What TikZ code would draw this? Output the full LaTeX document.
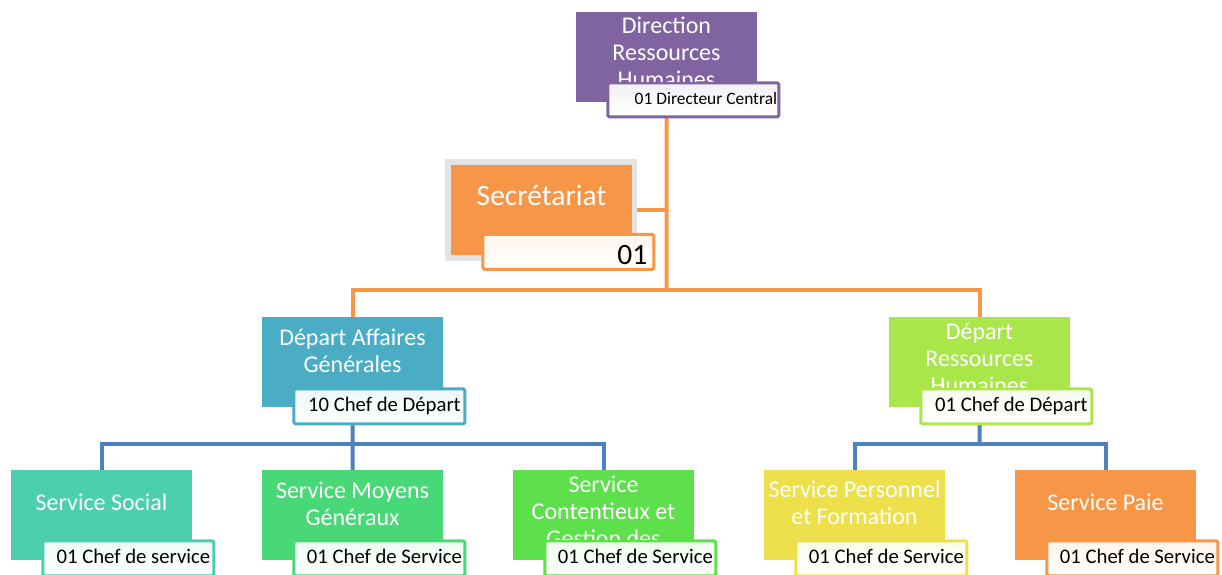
\documentclass[tikz,border=0pt]{standalone}
\usepackage{fontspec}
\setmainfont{Carlito}
\pgfdeclarelayer{bg}
\pgfsetlayers{bg,main}
\definecolor{cPurple}{HTML}{8064A2}
\definecolor{cOrange}{HTML}{F79646}
\definecolor{cTeal}{HTML}{4BACC6}
\definecolor{cLime}{HTML}{A9E64A}
\definecolor{cSocial}{HTML}{4BCFAF}
\definecolor{cMoyens}{HTML}{49D878}
\definecolor{cCont}{HTML}{5EE04C}
\definecolor{cYellow}{HTML}{EEE04A}
\definecolor{cBlue}{HTML}{4F81BD}
\definecolor{cFrame}{HTML}{E4E4E4}
\newcommand{\tstrut}{\rule{0pt}{25pt}}
\begin{document}
\begin{tikzpicture}[x=1pt,y=-1pt,
  box/.style={rectangle, fill=#1, minimum width=181pt, minimum height=90pt, inner sep=0pt, anchor=north west},
  mtext/.style={text=white, font=\fontsize{24}{27}\selectfont, align=center, inner sep=0pt, anchor=north},
  lab/.style={rectangle, draw=#1, line width=3pt, rounded corners=1.5pt,
    top color=#1!10, middle color=white, bottom color=white,
    minimum width=171pt, minimum height=35pt, inner xsep=0pt, inner ysep=0pt,
    text=black, font=\fontsize{20.7}{23}\selectfont, text height=15pt, text depth=4pt,
    execute at begin node=\hspace{10pt}},
  oline/.style={draw=cOrange, line width=4pt},
  bline/.style={draw=cBlue, line width=4pt}]
\useasboundingbox (0,0) rectangle (1222,574);

% boxes
\node[box=cPurple] (dir) at (576,12) {};
\node[rectangle, fill=cFrame, minimum width=192pt, minimum height=102pt, inner sep=0pt, anchor=north west] (secF) at (445,159) {};
\node[box=cOrange] (sec) at (451,165) {};
\node[box=cTeal] (dag) at (262,317) {};
\node[box=cLime] (drh) at (889,317) {};
\node[box=cSocial] (ss) at (11,470) {};
\node[box=cMoyens] (smg) at (262,470) {};
\node[box=cCont] (sc) at (513,470) {};
\node[box=cYellow] (spf) at (764,470) {};
\node[box=cOrange] (sp) at (1015,470) {};

% labels
\node[lab=cPurple, minimum height=34pt, font=\fontsize{17.4}{20}\selectfont, text height=12.5pt, text depth=3.5pt,
  execute at begin node=\hspace{15pt}] (dirL) at ([xshift=-64pt,yshift=2.5pt]dir.south east) {01 Directeur Central};
\node[lab=cOrange, font=\fontsize{29.5}{32}\selectfont, text height=26pt, text depth=0pt,
  execute at begin node=\hspace{118pt}] (secL) at ([xshift=-64pt,yshift=3.5pt]sec.south east) {01};
\node[lab=cTeal] (dagL) at ([xshift=-64pt,yshift=1pt]dag.south east) {10 Chef de Départ};
\node[lab=cLime] (drhL) at ([xshift=-64pt,yshift=1pt]drh.south east) {01 Chef de Départ};
\node[lab=cSocial] (ssL) at ([xshift=-64pt,yshift=2pt]ss.south east) {01 Chef de service};
\node[lab=cMoyens] (smgL) at ([xshift=-64pt,yshift=2pt]smg.south east) {01 Chef de Service};
\node[lab=cCont] (scL) at ([xshift=-64pt,yshift=2pt]sc.south east) {01 Chef de Service};
\node[lab=cYellow] (spfL) at ([xshift=-64pt,yshift=2pt]spf.south east) {01 Chef de Service};
\node[lab=cOrange] (spL) at ([xshift=-64pt,yshift=2pt]sp.south east) {01 Chef de Service};

% texts (long ones are cut off at the top of their label)
\begin{scope}
\clip (dir.north west) rectangle (dirL.north -| dir.east);
\node[mtext] (dirT) at (666.5,8) {\tstrut Direction\\Ressources\\Humaines};
\end{scope}
\node[mtext, font=\fontsize{29.5}{32}\selectfont] (secT) at (541.5,180) {\tstrut Secrétariat};
\node[mtext] (dagT) at (352.5,320) {\tstrut Départ Affaires\\Générales};
\begin{scope}
\clip (drh.north west) rectangle (drhL.north -| drh.east);
\node[mtext] (drhT) at (979.5,314) {\tstrut Départ\\Ressources\\Humaines};
\end{scope}
\node[mtext] (ssT) at (101.5,485) {\tstrut Service Social};
\node[mtext] (smgT) at (352.5,473) {\tstrut Service Moyens\\Généraux};
\begin{scope}
\clip (sc.north west) rectangle (scL.north -| sc.east);
\node[mtext] (scT) at (603.5,467) {\tstrut Service\\Contentieux et\\Gestion des};
\end{scope}
\node[mtext] (spfT) at (854.5,472) {\tstrut Service Personnel\\et Formation};
\node[mtext] (spT) at (1105.5,485) {\tstrut Service Paie};

% connectors
\coordinate (bus1) at (666.5,290);
\coordinate (bus2) at (352.5,444);
\coordinate (bus3) at (979.5,444);
\begin{pgfonlayer}{bg}
\draw[oline] (dir.south) -- (bus1);
\draw[oline] (sec.east) -- (sec.east -| dir.south);
\draw[oline] (dag.north) |- (bus1) -| (drh.north);
\draw[bline] (dag.south) -- (bus2);
\draw[bline] (smg.north) -- (bus2);
\draw[bline] (ss.north) |- (bus2) -| (sc.north);
\draw[bline] (drh.south) -- (bus3);
\draw[bline] (spf.north) |- (bus3) -| (sp.north);
\end{pgfonlayer}
\end{tikzpicture}
\end{document}
